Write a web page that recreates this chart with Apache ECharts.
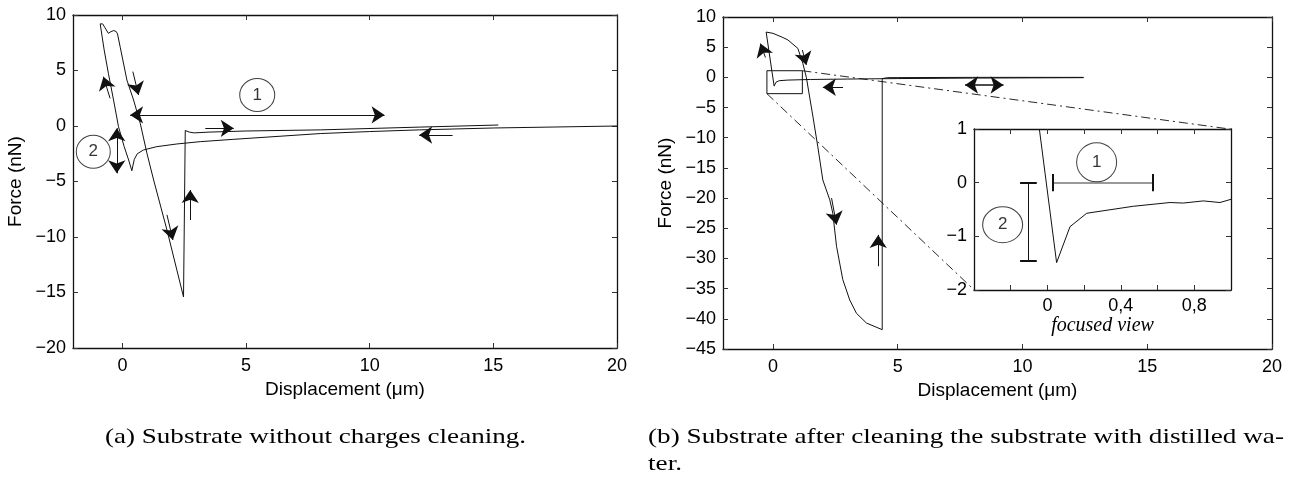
<!DOCTYPE html>
<html>
<head>
<meta charset="utf-8">
<script src="https://cdn.jsdelivr.net/npm/echarts@6/dist/echarts.min.js"></script>
<style>
html, body { margin: 0; padding: 0; background: #fff; }
#main { width: 1291px; height: 480px; }
</style>
</head>
<body>
<div id="main"></div>
<script>
// (a) force curve, substrate without charges cleaning  [displacement um, force nN]
var curveA = [
  [20, 0], [15, -0.18], [12, -0.35], [10, -0.5], [8, -0.68], [5.85, -1.0], [4.5, -1.2],
  [3.15, -1.41], [2.2, -1.62], [1.39, -1.86], [0.85, -2.16], [0.6, -2.5], [0.48, -3.0],
  [0.42, -3.6], [0.38, -4.03],
  [0.25, -3.06], [0.07, -1.86], [-0.16, -0.06], [-0.36, 2.34], [-0.57, 4.75], [-0.74, 6.85], [-0.9, 9.2],
  [-0.86, 9.1], [-0.8, 9.2], [-0.72, 8.9], [-0.66, 8.8], [-0.57, 8.35], [-0.47, 8.5], [-0.35, 8.6],
  [-0.25, 8.5], [-0.2, 8.3], [-0.09, 7.1],
  [0.18, 4.14], [0.45, 2.34], [0.72, 0.24], [0.99, -2.46], [1.26, -4.86], [1.8, -9.37], [2.2, -12.97], [2.47, -15.4],
  [2.54, -0.4], [2.7, -0.55], [2.9, -0.62], [3.5, -0.55], [5, -0.45], [8, -0.35], [12, -0.1], [15.2, 0.09]
];

// (b) force curve after cleaning with distilled water
var curveB = [
  [12.45, -0.05], [8, -0.12], [5, -0.2], [3, -0.28], [1.5, -0.35], [0.6, -0.45], [0.25, -0.55],
  [0.12, -0.82], [0.05, -1.45],
  [-0.04, 1.0], [-0.27, 7.5],
  [-0.2, 7.6], [0, 7.3], [0.4, 6.6], [0.6, 6.2], [1.0, 4.8],
  [1.2, 2.3], [1.34, 0], [1.6, -6.4], [1.8, -11.5], [2.0, -17.0], [2.28, -20.3], [2.4, -22.5],
  [2.55, -28.0], [2.8, -33.5], [3.08, -36.9], [3.35, -39.1], [3.75, -40.7], [4.38, -41.8],
  [4.38, -0.2], [4.6, -0.05], [8, 0], [12.45, 0]
];

// (b) focused view near the contact point
var curveInset = [
  [-0.044, 1.0], [0.05, -1.49], [0.123, -0.82], [0.214, -0.57], [0.468, -0.44], [0.668, -0.37],
  [0.74, -0.38], [0.849, -0.34], [0.94, -0.37], [1.0, -0.31]
];

var xTicks = [0, 5, 10, 15, 20];
var insetTicks = [-0.2, 0, 0.2, 0.4, 0.6, 0.8];
var insetLabels = [0, 0.4, 0.8];

// arrows: [x1, y1, x2, y2], head at the second point
var arrowsA = [[-0.5, 2.49, -0.77, 4.44], [0.42, 4.9, 0.65, 2.8], [3.35, -0.21, 4.5, -0.21],
  [13.35, -0.81, 12.0, -0.81], [1.8, -8.0, 2.04, -10.27], [2.74, -8.47, 2.74, -5.77]];
var dblArrowsA = [[0.31, 1.0, 10.6, 1.0], [-0.23, -0.2, -0.23, -4.26]];
var arrowsB = [[-0.3, 3.3, -0.5, 5.6], [1.18, 4.54, 1.34, 2.05], [2.81, -1.64, 2.0, -1.64],
  [2.35, -20.0, 2.55, -24.4], [4.22, -31.3, 4.22, -26.1]];
var dblArrowsB = [[7.7, -1.26, 9.24, -1.26]];

// numbered circles [x, y, text]
var marksA = [[5.45, 2.79, '1'], [-1.18, -2.32, '2']];
var marksInset = [[0.268, 0.38, '1'], [-0.244, -0.785, '2']];

// measurement bars in the focused view
var barsInset = [[0.029, 0, 0.573, 0]];
var barsInsetDark = [[-0.104, 0, -0.104, -1.45]];
var capsInset = [[0.029, -0.16, 0.029, 0.16], [0.573, -0.16, 0.573, 0.16],
  [-0.149, 0, -0.058, 0], [-0.149, -1.45, -0.058, -1.45]];

// zoom box in (b) and its connectors to the focused view
var zoomBox = [[-0.24, -2.7], [1.18, -2.7], [1.18, 1.1], [-0.24, 1.1], [-0.24, -2.7]];
var connectors = [[1.18, 1.1, 18.38, -8.6], [-0.24, -2.7, 8.06, -35.2]];

var captionA = '(a) Substrate without charges cleaning.';
var captionB1 = '(b) Substrate after cleaning the substrate with distilled wa-';
var captionB2 = 'ter.';

var SANS = 'Liberation Sans';
var SERIF = 'Liberation Serif';
var INK = '#111';

function minus(v) { return String(v).replace('-', '\u2212'); }
function comma(v) { return String(Math.round(v * 10) / 10).replace('.', ','); }

function segs(list) {
  return list.map(function (a) { return { coords: [[a[0], a[1]], [a[2], a[3]]] }; });
}

function axis(grid, pos, min, max, o) {
  o = o || {};
  var ax = {
    type: 'value', gridIndex: grid, position: pos, min: min, max: max,
    axisLine: { show: true, onZero: false, lineStyle: { color: INK, width: 1.3 } },
    axisTick: { show: true, inside: true, length: 5, lineStyle: { color: '#333' } },
    axisLabel: { show: !!o.labels, color: '#000', fontFamily: SANS, fontSize: 18, margin: o.margin || 7,
      formatter: o.fmt || minus },
    splitLine: { show: false }
  };
  if (o.interval) ax.interval = o.interval;
  if (o.ticks) ax.axisTick.customValues = o.ticks;
  if (o.labelValues) ax.axisLabel.customValues = o.labelValues;
  if (o.name) {
    ax.name = o.name;
    ax.nameLocation = 'middle';
    ax.nameGap = o.nameGap;
    ax.nameTextStyle = o.nameStyle || { color: '#000', fontFamily: SANS, fontSize: 19 };
  }
  return ax;
}

function lineSeries(xi, data, extra) {
  var s = {
    type: 'line', xAxisIndex: xi, yAxisIndex: xi, data: data, symbol: 'none', showSymbol: false,
    lineStyle: { color: INK, width: 1 }, silent: true, clip: true
  };
  return Object.assign(s, extra || {});
}

function linesSeries(xi, data, sym, style, poly) {
  return {
    type: 'lines', coordinateSystem: 'cartesian2d', xAxisIndex: xi, yAxisIndex: xi,
    polyline: !!poly, data: data, symbol: sym, symbolSize: 13, silent: true,
    lineStyle: Object.assign({ color: INK, width: 1, opacity: 1, curveness: 0 }, style || {})
  };
}

function circles(xi, list, size) {
  return {
    type: 'scatter', xAxisIndex: xi, yAxisIndex: xi, silent: true, z: 5,
    data: list.map(function (p) { return { value: [p[0], p[1]], name: p[2], symbolSize: size[p[2]] }; }),
    symbol: 'circle',
    itemStyle: { color: '#fff', borderColor: INK, borderWidth: 1 },
    label: { show: true, position: 'inside', formatter: '{b}', color: '#000', fontFamily: SANS, fontSize: 17 }
  };
}

// stretch the serif captions to the width they take in the figure
var capSize = 21;
var ctx = document.createElement('canvas').getContext('2d');
ctx.font = capSize + 'px ' + SERIF;
function fit(text, width) { return width / ctx.measureText(text).width; }
var capStyle = { fontFamily: SERIF, fontSize: capSize, fill: '#000' };

var chart = echarts.init(document.getElementById('main'));
var option = {
  animation: false,
  backgroundColor: '#fff',
  grid: [
    { left: 73, top: 15, width: 544, height: 333 },
    { left: 723, top: 17, width: 549, height: 332 },
    { left: 974, top: 129, width: 257, height: 161, show: true, backgroundColor: '#fff', borderWidth: 0, z: 3 }
  ],
  xAxis: [
    axis(0, 'bottom', -2, 20, { labels: true, ticks: xTicks, labelValues: xTicks, margin: 9,
      name: 'Displacement (\u03bcm)', nameGap: 32 }),
    axis(0, 'top', -2, 20, { ticks: xTicks }),
    axis(1, 'bottom', -2, 20, { labels: true, ticks: xTicks, labelValues: xTicks, margin: 9,
      name: 'Displacement (\u03bcm)', nameGap: 32 }),
    axis(1, 'top', -2, 20, { ticks: xTicks }),
    Object.assign(axis(2, 'bottom', -0.4, 1.0, { labels: true, ticks: insetTicks, labelValues: insetLabels,
      fmt: comma, margin: 7, name: 'focused view', nameGap: 25,
      nameStyle: { color: '#000', fontFamily: SERIF, fontStyle: 'italic', fontSize: 20 } }), { z: 4 }),
    Object.assign(axis(2, 'top', -0.4, 1.0, { ticks: insetTicks }), { z: 4 })
  ],
  yAxis: [
    axis(0, 'left', -20, 10, { labels: true, interval: 5, name: 'Force (nN)', nameGap: 48 }),
    axis(0, 'right', -20, 10, { interval: 5 }),
    axis(1, 'left', -45, 10, { labels: true, interval: 5, name: 'Force (nN)', nameGap: 48 }),
    axis(1, 'right', -45, 10, { interval: 5 }),
    Object.assign(axis(2, 'left', -2, 1, { labels: true, interval: 1 }), { z: 4 }),
    Object.assign(axis(2, 'right', -2, 1, { interval: 1 }), { z: 4 })
  ],
  series: [
    // (a)
    lineSeries(0, curveA),
    linesSeries(0, segs(arrowsA), ['none', 'arrow']),
    linesSeries(0, segs(dblArrowsA), ['arrow', 'arrow']),
    circles(0, marksA, { '1': [35, 33], '2': [34, 33] }),
    // (b)
    lineSeries(2, curveB),
    linesSeries(2, segs(arrowsB), ['none', 'arrow']),
    linesSeries(2, segs(dblArrowsB), ['arrow', 'arrow'], { width: 1.5 }),
    linesSeries(2, [{ coords: zoomBox }], ['none', 'none'], {}, true),
    linesSeries(2, segs(connectors), ['none', 'none'], { type: [9, 4, 2, 4], width: 0.9 }),
    // focused view
    Object.assign(lineSeries(4, curveInset), { z: 5 }),
    Object.assign(linesSeries(4, segs(barsInset), ['none', 'none'], { color: '#777', width: 1.5 }), { z: 5 }),
    Object.assign(linesSeries(4, segs(barsInsetDark), ['none', 'none']), { z: 5 }),
    Object.assign(linesSeries(4, segs(capsInset), ['none', 'none'], { width: 2 }), { z: 5 }),
    circles(4, marksInset, { '1': [40, 39], '2': [40, 36] })
  ],
  graphic: [
    { type: 'text', left: 105, top: 427, scaleX: fit(captionA, 421),
      style: Object.assign({ text: captionA }, capStyle) },
    { type: 'text', left: 648, top: 427, scaleX: fit(captionB1, 636),
      style: Object.assign({ text: captionB1 }, capStyle) },
    { type: 'text', left: 648, top: 454, scaleX: fit(captionB1, 636),
      style: Object.assign({ text: captionB2 }, capStyle) }
  ]
};
chart.setOption(option);
</script>
</body>
</html>
